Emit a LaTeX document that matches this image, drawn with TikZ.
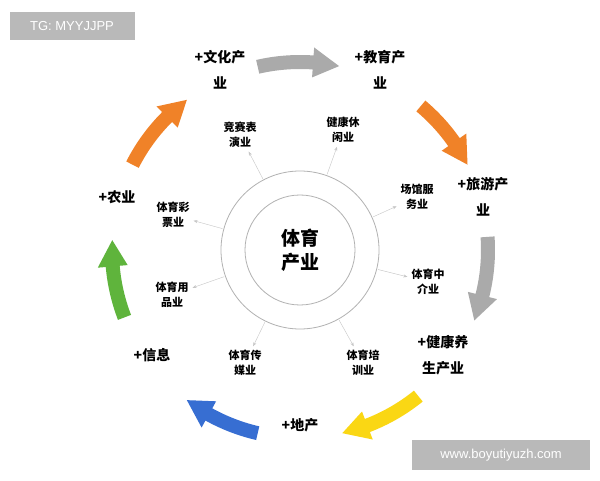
\documentclass[tikz,border=0pt]{standalone}
\usepackage{fontspec}
\setmainfont{Liberation Sans}
\newfontfamily\cjk{Noto Sans CJK SC}
\usetikzlibrary{positioning}
\usetikzlibrary{calc}
\usetikzlibrary{arrows.meta}

% curved block arrow: #1 start angle, #2 end angle, #3 colour
\newcommand{\ringarrow}[3]{%
  \fill[#3] ($(ctr)+(#1:195)$) arc[start angle=#1, end angle=#2+8, radius=195]
    -- ($(ctr)+(#2+8:203)$) -- ($(ctr)+(#2:188)$) -- ($(ctr)+(#2+8:173)$)
    -- ($(ctr)+(#2+8:181)$) arc[start angle=#2+8, end angle=#1, radius=181] -- cycle;}

\definecolor{arrorange}{RGB}{240,130,40}
\definecolor{arrgray}{RGB}{170,170,170}
\definecolor{arryellow}{RGB}{250,215,20}
\definecolor{arrblue}{RGB}{55,110,210}
\definecolor{arrgreen}{RGB}{95,180,60}

\begin{document}
\begin{tikzpicture}[x=1pt, y=1pt]
% -------------------------------------------------
\tikzset{
  outer/.style={font=\cjk\bfseries\fontsize{14}{26}\selectfont, align=center},
  inner/.style={font=\cjk\bfseries\fontsize{11}{15}\selectfont, align=center, inner sep=1pt},
  spoke/.style={draw=gray!45, thin, -{Stealth[length=4pt,width=3pt]}, shorten <=1pt, shorten >=3pt},
  tag/.style={fill=gray!55, text=white, font=\fontsize{13}{15}\selectfont, minimum height=28pt}
}
\useasboundingbox (0,0) rectangle (600,480);
\fill[white] (0,0) rectangle (600,480);
\coordinate (ctr) at (300,230);
% -------------------------------------------------
% rings
\node[draw=gray!60, circle, minimum size=158pt, line width=0.8pt] (ring) at (ctr) {};
\node[draw=gray!60, circle, minimum size=110pt, line width=0.8pt] (core) at (ctr) {};
\node[font=\cjk\bfseries\fontsize{19}{24}\selectfont, align=center] (mid) at (ctr) {体育\\产业};

% inner labels
\node[inner] (jsby) at (240,345) {竞赛表\\演业};
\node[inner] (jkxx) at (343,350) {健康休\\闲业};
\node[inner] (cgfw) at (417,283) {场馆服\\务业};
\node[inner] (tyzj) at (428,198) {体育中\\介业};
\node[inner] (typx) at (363,117) {体育培\\训业};
\node[inner] (tycm) at (245,117) {体育传\\媒业};
\node[inner] (tyyp) at (172,185) {体育用\\品业};
\node[inner] (tycp) at (173,265) {体育彩\\票业};

\foreach \n in {jsby,jkxx,cgfw,tyzj,typx,tycm,tyyp,tycp}
  \draw[spoke] (ring) -- (\n);

% outer labels
\node[outer] (whcy) at (220,410) {+文化产\\业};
\node[outer] (jycy) at (380,410) {+教育产\\业};
\node[outer] (lycy) at (483,283) {+旅游产\\业};
\node[outer] (jkys) at (443,125) {+健康养\\生产业};
\node[outer] (dc) at (300,55) {+地产};
\node[outer] (xx) at (152,125) {+信息};
\node[outer] (ny) at (117,283) {+农业};

% big arrows
\ringarrow{103}{78}{arrgray}
\ringarrow{50}{27}{arrorange}
\ringarrow{4}{-22}{arrgray}
\ringarrow{-51}{-77}{arryellow}
\ringarrow{-103}{-127}{arrblue}
\ringarrow{-159}{-183}{arrgreen}
\ringarrow{153}{127}{arrorange}

% watermarks
\node[tag, minimum width=125pt] (tg) at (72,454) {TG: MYYJJPP};
\node[tag, minimum width=178pt, minimum height=30pt] (site) at (501,25) {www.boyutiyuzh.com};
\end{tikzpicture}
\end{document}
